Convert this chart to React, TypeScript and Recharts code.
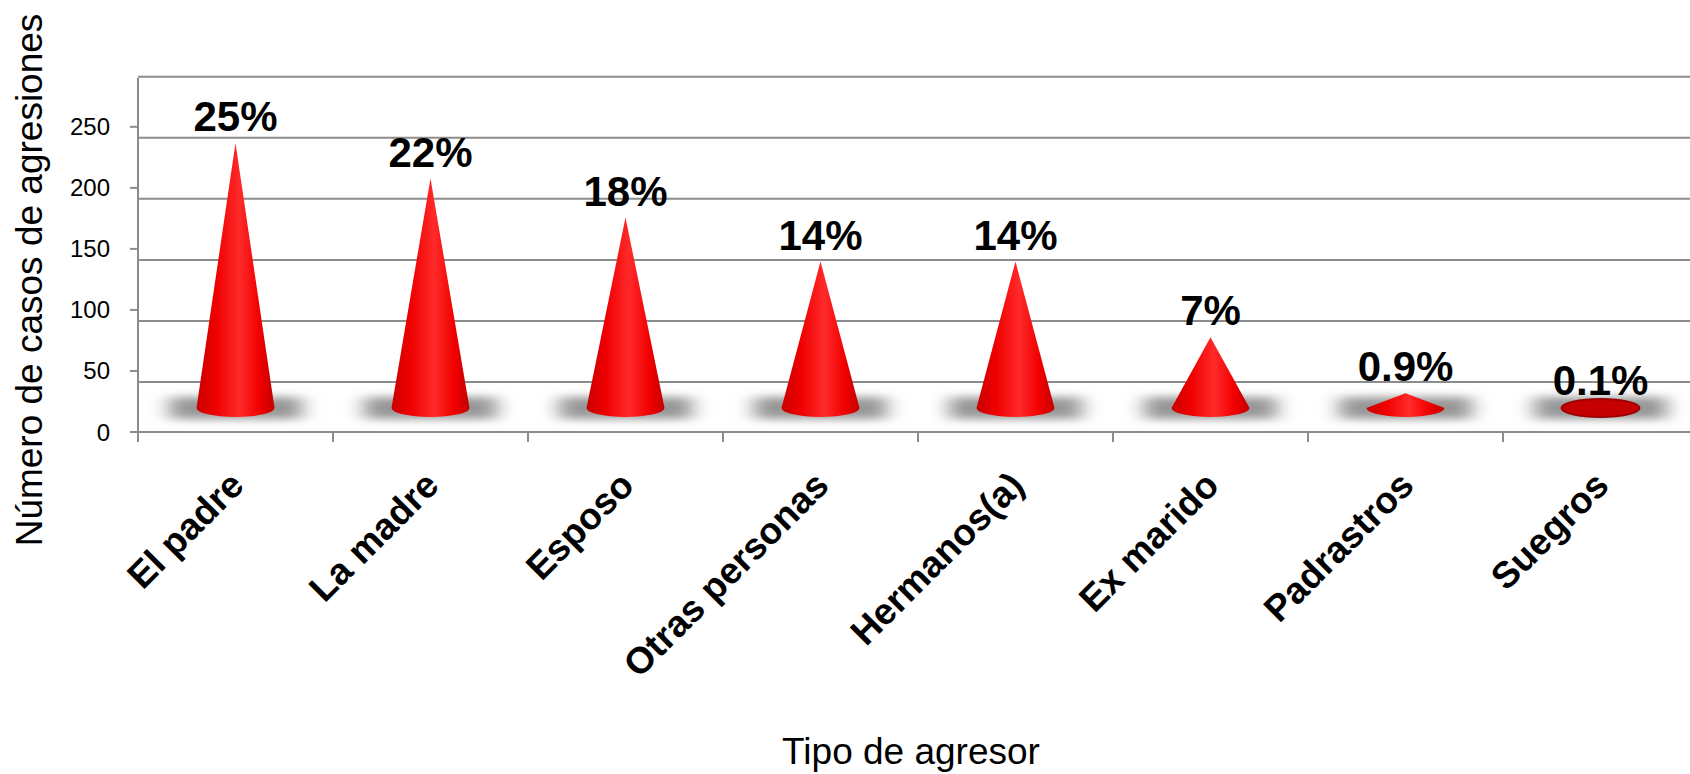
import React from "react";
import { Bar, BarChart, CartesianGrid, LabelList, XAxis, YAxis } from "recharts";

const categories = ["El padre", "La madre", "Esposo", "Otras personas", "Hermanos(a)", "Ex marido", "Padrastros", "Suegros"];
const cases = [217, 188, 156, 120, 120, 58, 12, 1];
const percents = ["25%", "22%", "18%", "14%", "14%", "7%", "0.9%", "0.1%"];
const yTicks = [0, 50, 100, 150, 200, 250];
const gridValues = [50, 100, 150, 200, 250, 300];
const Y_MAX = 290;

const data = categories.map((name, i) => ({ name, cases: cases[i], pct: percents[i] }));

const FONT = "'Liberation Sans', Arial, sans-serif";
const GRID = "#8c8c8c";
const CHART_W = 1700;
const CHART_H = 774;
const LEFT = 138;
const TOP = 78;
const AXIS_Y = 432;
const PLOT_W = CHART_W - LEFT - 2;
const BAND = PLOT_W / categories.length;
const WALL_SHIFT = 11; // back wall sits a bit lower than the front axis
const BASE_LIFT = 24; // cone bases float above the front floor edge

function scaleY(yAxis: any, offset: any, v: number) {
  const s = yAxis && yAxis.scale;
  if (typeof s === "function") return s(v);
  if (s && typeof s.map === "function") return s.map(v);
  return offset.top + offset.height * (1 - v / Y_MAX);
}

function Cone(props: any) {
  const { x, y, width, height } = props;
  const cx = x + width / 2;
  const baseY = y + height - BASE_LIFT;
  const tipY = y - BASE_LIFT;
  const rx = width / 2;
  const ry = 9;
  return (
    <g>
      <rect x={cx - 66} y={baseY - 11} width={132} height={22} fill="#979797" filter="url(#shadowBlur)" />
      {height < 4 ? (
        <ellipse cx={cx} cy={baseY} rx={rx} ry={ry} fill="#c40000" stroke="#9c0000" strokeWidth={2} />
      ) : (
        <path
          d={`M${cx - rx},${baseY} L${cx},${tipY} L${cx + rx},${baseY} A${rx},${ry} 0 0 1 ${cx - rx},${baseY} Z`}
          fill="url(#coneFill)"
        />
      )}
    </g>
  );
}

function PctLabel(props: any) {
  const { x, y, width, value } = props;
  return (
    <text
      x={x + width / 2}
      y={y - BASE_LIFT - 12}
      textAnchor="middle"
      fontFamily={FONT}
      fontWeight="bold"
      fontSize={42}
      fill="#000"
    >
      {value}
    </text>
  );
}

function CategoryTick(props: any) {
  const { x, y, payload } = props;
  const bx = x - BAND / 2;
  const ax = x + 1;
  const ay = y + 46;
  return (
    <g>
      <line x1={bx} y1={y} x2={bx} y2={y + 10} stroke={GRID} strokeWidth={2} />
      <text
        x={ax}
        y={ay}
        dy="0.36em"
        textAnchor="end"
        transform={`rotate(-45, ${ax}, ${ay})`}
        fontFamily={FONT}
        fontWeight="bold"
        fontSize={37}
        fill="#000"
      >
        {payload.value}
      </text>
    </g>
  );
}

function XTitle(props: any) {
  const { viewBox } = props;
  return (
    <text x={viewBox.x + viewBox.width / 2 - 7} y={764} textAnchor="middle" fontFamily={FONT} fontSize={37} fill="#000">
      Tipo de agresor
    </text>
  );
}

function YTitle() {
  return (
    <text
      x={42}
      y={280}
      textAnchor="middle"
      transform="rotate(-90, 42, 280)"
      fontFamily={FONT}
      fontSize={37}
      fill="#000"
    >
      Número de casos de agresiones
    </text>
  );
}

export default function App() {
  return (
    <div style={{ position: "absolute", left: 0, top: 0, width: 1690, height: CHART_H, overflow: "hidden", background: "#fff" }}>
      <BarChart
        width={CHART_W}
        height={CHART_H}
        data={data}
        margin={{ top: TOP, right: 2, bottom: 0, left: 0 }}
        barCategoryGap="30%"
      >
        <defs>
          <linearGradient id="coneFill" x1="0" y1="0" x2="1" y2="0">
            <stop offset="0" stopColor="#c80000" />
            <stop offset="0.25" stopColor="#f00000" />
            <stop offset="0.55" stopColor="#ff2a2a" />
            <stop offset="0.8" stopColor="#f20000" />
            <stop offset="1" stopColor="#c40000" />
          </linearGradient>
          <filter id="shadowBlur" x="-50%" y="-100%" width="200%" height="300%">
            <feGaussianBlur stdDeviation="10 4" />
          </filter>
        </defs>
        <CartesianGrid
          vertical={false}
          stroke={GRID}
          strokeWidth={2}
          horizontalCoordinatesGenerator={({ yAxis, offset }: any) =>
            gridValues.map((v) => scaleY(yAxis, offset, v) + WALL_SHIFT)
          }
        />
        <XAxis
          dataKey="name"
          height={CHART_H - AXIS_Y}
          interval={0}
          tickLine={false}
          tickSize={0}
          tickMargin={0}
          axisLine={{ stroke: GRID, strokeWidth: 2 }}
          tick={<CategoryTick />}
          label={<XTitle />}
        />
        <YAxis
          width={LEFT}
          domain={[0, Y_MAX]}
          ticks={yTicks}
          interval={0}
          tickSize={8}
          tickMargin={20}
          axisLine={{ stroke: GRID, strokeWidth: 2 }}
          tickLine={{ stroke: GRID, strokeWidth: 2 }}
          tick={{ fill: "#000", fontSize: 24, fontFamily: FONT }}
          label={<YTitle />}
        />
        <Bar dataKey="cases" shape={<Cone />} isAnimationActive={false}>
          <LabelList dataKey="pct" content={<PctLabel />} />
        </Bar>
      </BarChart>
    </div>
  );
}
